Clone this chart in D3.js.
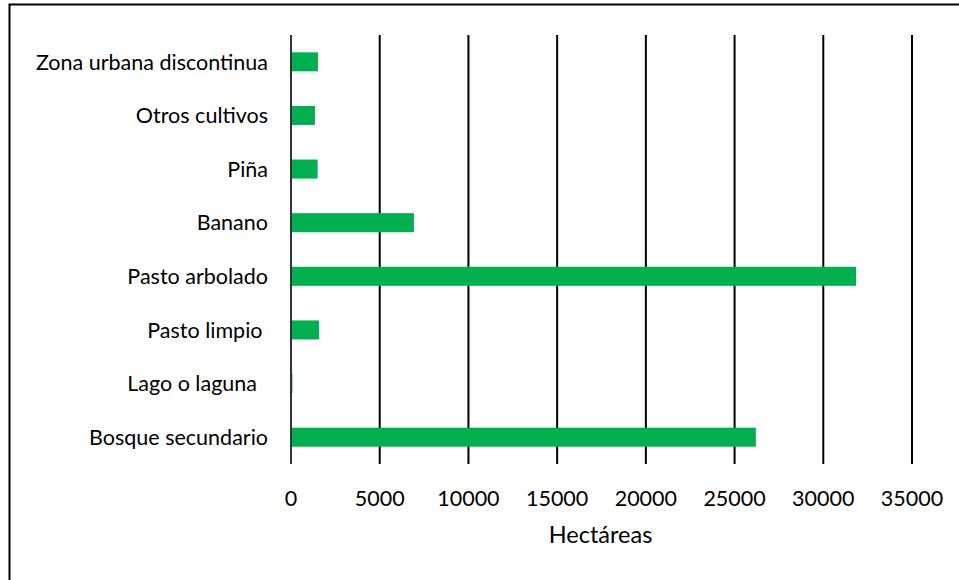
<!DOCTYPE html>
<html><head><meta charset="utf-8">
<script src="https://cdn.jsdelivr.net/npm/d3@7"></script>
<style>body{margin:0;background:#fff}svg{display:block}text{font-family:Lato,"Open Sans",sans-serif;fill:#000}</style>
</head><body><svg id="c" width="959" height="580"></svg>
<script>
const categories = ["Zona urbana discontinua","Otros cultivos","Piña","Banano","Pasto arbolado","Pasto limpio ","Lago o laguna  ","Bosque secundario"];
const values = [1520, 1350, 1500, 6930, 31850, 1580, 80, 26200];
const ticks = [0,5000,10000,15000,20000,25000,30000,35000];
const xTitle = "Hectáreas";

const svg = d3.select("#c");
svg.append("rect").attr("x",9.5).attr("y",4.5).attr("width",970).attr("height",600)
  .attr("fill","none").attr("stroke","#000").attr("stroke-width",2);

const x = d3.scaleLinear().domain([0,35000]).range([291,912]);
const y = d3.scaleBand().domain(categories).range([35,464]).paddingInner(0.645).paddingOuter(0.3225);

svg.append("g").selectAll("line").data(ticks).join("line")
  .attr("x1",d=>x(d)).attr("x2",d=>x(d)).attr("y1",35).attr("y2",464)
  .attr("stroke",(d)=>d===0?"#333":"#000").attr("stroke-width",2);

svg.append("g").selectAll("rect").data(values).join("rect")
  .attr("x",x(0)+1).attr("y",(d,i)=>y(categories[i]))
  .attr("width",d=>Math.max(0,x(d)-x(0)-1)).attr("height",y.bandwidth())
  .attr("fill","#00b050");

svg.append("g").selectAll("text").data(categories).join("text")
  .attr("x",268).attr("y",d=>y(d)+y.bandwidth()/2).attr("dy","0.36em")
  .attr("text-anchor","end").attr("font-size",21.5).style("white-space","pre").text(d=>d);

svg.append("g").selectAll("text").data(ticks).join("text")
  .attr("x",d=>x(d)).attr("y",506).attr("text-anchor","middle").attr("font-size",21.5).text(d=>d);

svg.append("text").attr("x",x(17500)-1).attr("y",543).attr("text-anchor","middle").attr("font-size",23.5).text(xTitle);
</script></body></html>
